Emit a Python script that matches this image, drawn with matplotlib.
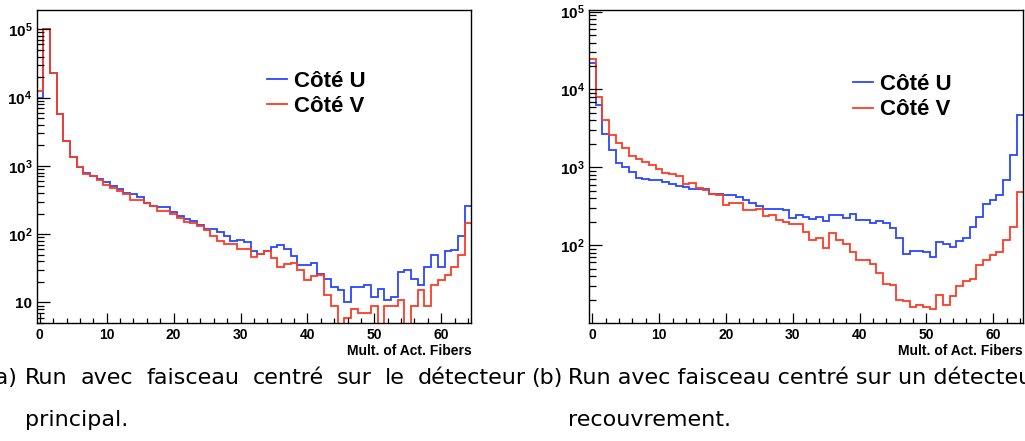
import numpy as np
import matplotlib
matplotlib.use("Agg")
import matplotlib.pyplot as plt
from matplotlib.ticker import FixedLocator, LogLocator, MultipleLocator, NullFormatter

# ---- data: fibre multiplicity histograms, one bin per integer 0..64 ----
edges = np.arange(-0.5, 65.0, 1.0)

run_a_u = [1.0e4, 1.0e5, 2.3e4, 5.8e3, 2.3e3, 1360, 950, 790, 710, 637,
           580, 510, 455, 405, 392, 350, 288, 258, 252, 250,
           210, 187, 165, 155, 138, 120, 120, 107, 94, 79,
           81, 76, 57, 51, 56, 64, 69, 60, 48, 35,
           35, 38, 26, 22, 17, 15, 10, 17, 17, 18,
           12, 16, 11, 12, 28, 30, 22, 18, 33, 50,
           33, 57, 58, 94, 255]
run_a_v = [1.23e4, 1.0e5, 2.3e4, 5.8e3, 2.3e3, 1360, 950, 770, 710, 620,
           520, 480, 430, 383, 316, 316, 282, 258, 218, 218,
           200, 174, 150, 147, 131, 117, 94, 79, 71, 71,
           60, 60, 47, 51, 57, 45, 33, 36, 38, 30,
           21, 24, 25, 13, 9, 0, 6, 8, 7, 7,
           9, 0, 9, 9, 11, 0, 9, 15, 9, 18,
           21, 25, 33, 50, 147]

run_b_u = [2.2e4, 6.3e3, 2.7e3, 1650, 1140, 1000, 870, 720, 716, 695,
           681, 648, 617, 570, 560, 533, 533, 533, 460, 460,
           447, 447, 416, 385, 343, 319, 295, 295, 295, 285,
           226, 243, 231, 220, 231, 205, 243, 247, 226, 255,
           213, 213, 190, 205, 190, 164, 123, 77, 85, 85,
           82, 70, 110, 105, 95, 114, 125, 172, 231, 336,
           380, 438, 695, 1430, 4740]
run_b_v = [2.5e4, 7.9e3, 4.1e3, 2570, 2070, 1790, 1400, 1290, 1170, 1060,
           962, 846, 813, 767, 606, 630, 543, 517, 459, 437,
           332, 349, 343, 287, 281, 295, 235, 243, 209, 200,
           185, 185, 148, 116, 125, 93, 144, 118, 105, 82,
           65, 64, 57, 44, 32, 31, 20, 19, 16, 17,
           16, 15, 23, 17, 22, 30, 35, 37, 55, 65,
           74, 82, 116, 172, 483]

series_labels = ["Côté U", "Côté V"]
x_title = "Mult. of Act. Fibers"
x_ticks = [0, 10, 20, 30, 40, 50, 60]
a_yticks = [10, 1e2, 1e3, 1e4, 1e5]
a_ylabels = ["10", r"$\mathbf{10^{2}}$", r"$\mathbf{10^{3}}$", r"$\mathbf{10^{4}}$", r"$\mathbf{10^{5}}$"]
b_yticks = [1e2, 1e3, 1e4, 1e5]
b_ylabels = [r"$\mathbf{10^{2}}$", r"$\mathbf{10^{3}}$", r"$\mathbf{10^{4}}$", r"$\mathbf{10^{5}}$"]

caption_a_words = ["Run", "avec", "faisceau", "centré", "sur", "le", "détecteur"]
caption_a_line2 = "principal."
caption_b_line1 = "Run avec faisceau centré sur un détecteur de"
caption_b_line2 = "recouvrement."

BLUE = "#2a46ff"
RED = "#ff3a26"

plt.rcParams["mathtext.fontset"] = "custom"
plt.rcParams["mathtext.bf"] = "Liberation Sans:bold"
plt.rcParams["mathtext.rm"] = "Liberation Sans:bold"
plt.rcParams["mathtext.it"] = "Liberation Sans:bold"

W, H = 1025, 441
fig = plt.figure(figsize=(W / 100, H / 100), dpi=100)


def px_axes(x0, x1, y0, y1):
    return fig.add_axes([x0 / W, 1 - y1 / H, (x1 - x0) / W, (y1 - y0) / H])


def style_panel(ax, run_u, run_v, ylim, yticks, ylabels, leg_anchor):
    ax.stairs(run_u, edges, baseline=None, color=BLUE, lw=1.3, label=series_labels[0])
    ax.stairs(run_v, edges, baseline=None, color=RED, lw=1.3, label=series_labels[1])
    ax.set_yscale("log")
    ax.set_xlim(-0.5, 64.5)
    ax.set_ylim(*ylim)
    ax.xaxis.set_major_locator(FixedLocator(x_ticks))
    ax.xaxis.set_minor_locator(MultipleLocator(2))
    ax.yaxis.set_major_locator(FixedLocator(yticks))
    ax.yaxis.set_minor_locator(LogLocator(base=10, subs=np.arange(2, 10)))
    ax.yaxis.set_minor_formatter(NullFormatter())
    ax.set_yticklabels(ylabels, fontfamily="Liberation Sans", fontweight="bold", fontsize=11)
    ax.set_xticklabels([str(t) for t in x_ticks], fontfamily="Liberation Sans",
                       fontweight="bold", fontsize=10)
    ax.tick_params(which="both", direction="in", top=False, right=False, width=0.9, color="black")
    ax.tick_params(axis="y", which="major", length=9.5, pad=3)
    ax.tick_params(axis="y", which="minor", length=5)
    ax.tick_params(axis="x", which="major", length=7, pad=3.5)
    ax.tick_params(axis="x", which="minor", length=3.3)
    for s in ax.spines.values():
        s.set_linewidth(1.0)
    ax.set_xlabel(x_title, loc="right", fontfamily="Liberation Sans", fontweight="bold", fontsize=10)
    ax.xaxis.set_label_coords(1.0, -0.066)
    ax.legend(loc="upper left", bbox_to_anchor=leg_anchor, frameon=False,
              prop={"family": "Liberation Sans", "weight": "bold", "size": 16},
              handlelength=0.9, handletextpad=0.35, labelspacing=0.19,
              borderpad=0, borderaxespad=0)


ax_a = px_axes(36.5, 471.3, 10, 323)
style_panel(ax_a, run_a_u, run_a_v, (5.0, 1.92e5), a_yticks, a_ylabels, (0.529, 0.805))

ax_b = px_axes(589, 1023.2, 10, 323)
style_panel(ax_b, run_b_u, run_b_v, (10.0, 1.05e5), b_yticks, b_ylabels, (0.607, 0.795))

# ---- captions (left one justified between two margins) ----
cap = dict(family="DejaVu Sans", size=16, va="baseline")
y1, y2 = 1 - 384 / H, 1 - 426 / H
fig.text(17.5 / W, y1, "(a)", ha="right", **cap)

renderer = fig.canvas.get_renderer()
word_artists = [fig.text(0, y1, w, ha="left", **cap) for w in caption_a_words]
widths = [t.get_window_extent(renderer).width for t in word_artists]
left, right = 25.0, 526.0
gap = (right - left - sum(widths)) / (len(widths) - 1)
x = left
for t, w in zip(word_artists, widths):
    t.set_x(x / W)
    x += w + gap
fig.text(left / W, y2, caption_a_line2, ha="left", **cap)

fig.text(531 / W, y1, "(b)", ha="left", **cap)
fig.text(568 / W, y1, caption_b_line1, ha="left", **cap)
fig.text(568 / W, y2, caption_b_line2, ha="left", **cap)

fig.savefig("out.png", dpi=100)
